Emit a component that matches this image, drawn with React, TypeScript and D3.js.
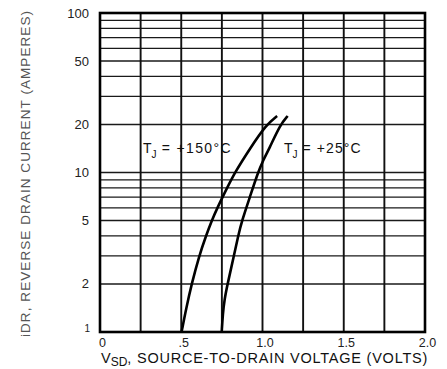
import React from 'react';
import * as d3 from 'd3';

// curve readings (volts, amperes)
const tj150 = [
  [0.502, 1], [0.53, 1.4], [0.564, 2], [0.61, 3], [0.652, 4], [0.688, 5], [0.722, 6],
  [0.782, 8], [0.83, 10], [0.92, 14], [1.024, 20], [1.09, 22.6],
];
const tj25 = [
  [0.749, 1], [0.756, 1.3], [0.766, 1.6], [0.785, 2], [0.824, 3], [0.85, 4], [0.874, 5],
  [0.922, 7], [0.972, 10], [1.005, 12], [1.04, 14], [1.11, 20], [1.155, 22.6],
];

const xTicks = [0, 0.5, 1, 1.5, 2];
const xTickLabels = ['0', '.5', '1.0', '1.5', '2.0'];
const xGrid = [0.25, 0.5, 0.75, 1, 1.25, 1.5, 1.75];
const yTicks = [1, 2, 5, 10, 20, 50, 100];
const yGrid = [2, 3, 4, 5, 6, 7, 8, 9, 10, 20, 30, 40, 50, 60, 70, 80, 90];

const W = 447;
const H = 369;
const left = 100, right = 425, top = 13, bottom = 332;
const font = '"Liberation Sans", Arial, sans-serif';

export default function App() {
  const x = d3.scaleLinear().domain([0, 2]).range([left, right]);
  const y = d3.scaleLog().domain([1, 100]).range([bottom, top]);

  const line = d3.line<number[]>()
    .x(d => x(d[0]))
    .y(d => y(d[1]))
    .curve(d3.curveBasis);

  return (
    <svg width={W} height={H} style={{ position: 'absolute', left: 0, top: 0, background: '#fff' }}>
      {/* horizontal grid */}
      {yGrid.map(v => (
        <line key={'h' + v} x1={left} x2={right} y1={y(v)} y2={y(v)} stroke="#1a1a1a" strokeWidth={1.3} />
      ))}
      {/* vertical grid */}
      {xGrid.map(v => (
        <line key={'v' + v} x1={x(v)} x2={x(v)} y1={top} y2={bottom} stroke="#111" strokeWidth={1.9} />
      ))}
      <rect x={left} y={top} width={right - left} height={bottom - top} fill="none" stroke="#000" strokeWidth={2.6} />

      {/* curves */}
      <path d={line(tj150) || ''} fill="none" stroke="#000" strokeWidth={2.6} />
      <path d={line(tj25) || ''} fill="none" stroke="#000" strokeWidth={2.6} />

      {/* y tick labels */}
      {yTicks.map(v => (
        <text key={'yl' + v} x={v === 1 ? 90 : 89} y={v === 1 ? y(v) : y(v) + 4.5}
          textAnchor="end" fontFamily={font} fontSize={v === 1 ? 10 : 13} fill="#222">{v}</text>
      ))}
      {/* x tick labels */}
      {xTicks.map((v, i) => (
        <text key={'xl' + v} x={x(v) + 2.5} y={347} textAnchor="middle"
          fontFamily={font} fontSize={12.5} fill="#222">{xTickLabels[i]}</text>
      ))}

      {/* curve labels */}
      <text x={143} y={153} fontFamily={font} fontSize={14} fill="#111">
        T<tspan fontSize={10} dy={5}>J</tspan>
        <tspan dy={-5} textLength={74} lengthAdjust="spacing"> = +150°C</tspan>
      </text>
      <text x={284} y={153} fontFamily={font} fontSize={14} fill="#111">
        T<tspan fontSize={10} dy={5}>J</tspan>
        <tspan dy={-5} textLength={63} lengthAdjust="spacing"> = +25°C</tspan>
      </text>

      {/* axis titles */}
      <text x={101} y={363} fontFamily={font} fontSize={14.5} fill="#111">
        V<tspan fontSize={12} dy={3}>SD</tspan>
        <tspan dy={-3} textLength={300} lengthAdjust="spacing">, SOURCE-TO-DRAIN VOLTAGE (VOLTS)</tspan>
      </text>
      <text transform="translate(30,337) rotate(-90)" fontFamily={font} fontSize={13.5} fill="#555"
        textLength={326} lengthAdjust="spacing">
        iDR, REVERSE DRAIN CURRENT (AMPERES)
      </text>
    </svg>
  );
}
